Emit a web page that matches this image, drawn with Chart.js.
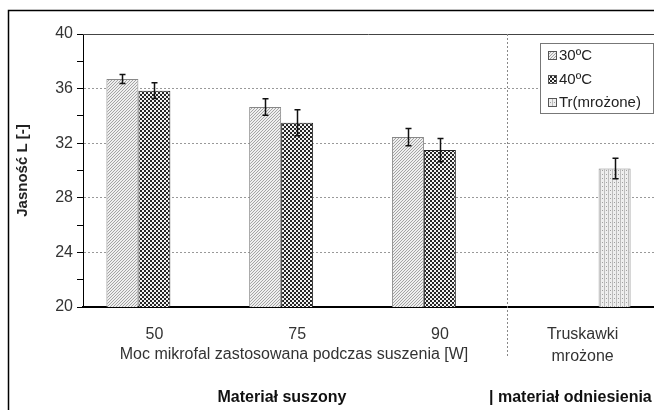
<!DOCTYPE html>
<html lang="pl">
<head>
	<meta charset="UTF-8">
	<title>Jasność L</title>
	<script src="https://cdn.jsdelivr.net/npm/chart.js"></script>
	<style>
		body { margin: 0; background: #fff; }
		canvas { display: block; }
	</style>
</head>
<body>
	<canvas id="grafico" width="654" height="410"></canvas>

	<script>
		// dane
		const kategorie = ['50', '75', '90', ['Truskawki', 'mrożone']];
		const etykietySerii = ['30ºC', '40ºC', 'Tr(mrożone)'];
		const jasnosc30 = [36.7, 34.65, 32.45, null];
		const jasnosc40 = [35.85, 33.5, 31.5, null];
		const jasnoscTr = [null, null, null, 30.15];
		const blad30 = [0.33, 0.6, 0.63, 0];
		const blad40 = [0.58, 0.95, 0.85, 0];
		const bladTr = [0, 0, 0, 0.75];
		const osY = { min: 20, max: 40, krok: 2 };

		const FONT = '"Liberation Sans", Arial, sans-serif';

		function wzor(rozmiar, rysuj) {
			const c = document.createElement('canvas');
			c.width = rozmiar;
			c.height = rozmiar;
			const x = c.getContext('2d');
			rysuj(x);
			return document.getElementById('grafico').getContext('2d').createPattern(c, 'repeat');
		}

		const wzor30 = wzor(6, x => {
			x.fillStyle = '#efefef';
			x.fillRect(0, 0, 6, 6);
			x.fillStyle = '#a4a4a4';
			for (let i = 0; i < 6; i++) {
				x.fillRect(i, 5 - i, 1, 1);
				x.fillRect((i + 3) % 6, 5 - i, 1, 1);
			}
		});
		const wzor40 = wzor(4, x => {
			x.fillStyle = '#262626';
			x.fillRect(0, 0, 4, 4);
			x.fillStyle = '#f2f2f2';
			x.fillRect(0, 0, 2, 2);
			x.fillRect(2, 2, 2, 2);
		});
		const wzorTr = wzor(4, x => {
			x.fillStyle = '#eeeeee';
			x.fillRect(0, 0, 4, 4);
			x.fillStyle = '#bcbcbc';
			x.fillRect(0, 0, 1, 4);
			x.fillStyle = '#a0a0a0';
			x.fillRect(2, 2, 1, 1);
		});

		const bledy = [blad30, blad40, bladTr];

		const dodatki = {
			id: 'dodatki',
			beforeDatasetsDraw(chart) {
				const { ctx, chartArea, scales } = chart;
				ctx.save();
				// górna krawędź obszaru wykresu
				ctx.strokeStyle = '#444';
				ctx.lineWidth = 1;
				ctx.beginPath();
				ctx.moveTo(chartArea.left, chartArea.top + 0.5);
				ctx.lineTo(chartArea.right, chartArea.top + 0.5);
				ctx.stroke();
				// linia podziału
				const xp = Math.round(scales.x.getPixelForValue(2.47)) + 0.5;
				ctx.strokeStyle = '#888';
				ctx.setLineDash([2, 2]);
				ctx.beginPath();
				ctx.moveTo(xp, chartArea.top);
				ctx.lineTo(xp, 357);
				ctx.stroke();
				ctx.restore();
			},
			afterDatasetsDraw(chart) {
				const { ctx, scales } = chart;
				ctx.save();
				ctx.strokeStyle = '#111';
				ctx.lineWidth = 1.5;
				chart.data.datasets.forEach((ds, i) => {
					const meta = chart.getDatasetMeta(i);
					meta.data.forEach((bar, j) => {
						const v = ds.data[j];
						const e = bledy[i][j];
						if (v === null || !e) return;
						const x = Math.round(bar.x) + 0.5;
						const y1 = scales.y.getPixelForValue(v + e);
						const y2 = scales.y.getPixelForValue(v - e);
						ctx.beginPath();
						ctx.moveTo(x, y1);
						ctx.lineTo(x, y2);
						ctx.moveTo(x - 3, y1);
						ctx.lineTo(x + 3, y1);
						ctx.moveTo(x - 3, y2);
						ctx.lineTo(x + 3, y2);
						ctx.stroke();
					});
				});
				ctx.restore();
			},
			afterDraw(chart) {
				const { ctx } = chart;
				ctx.save();
				// ramka
				ctx.strokeStyle = '#000';
				ctx.lineWidth = 1.5;
				ctx.beginPath();
				ctx.moveTo(8.5, 410);
				ctx.lineTo(8.5, 10.5);
				ctx.lineTo(654, 10.5);
				ctx.stroke();

				// opisy pod osią
				ctx.fillStyle = '#333';
				ctx.textBaseline = 'middle';
				ctx.textAlign = 'center';
				ctx.font = '16px ' + FONT;
				ctx.fillText('Moc mikrofal zastosowana podczas suszenia [W]', 294, 355);
				ctx.fillStyle = '#111';
				ctx.font = 'bold 16px ' + FONT;
				ctx.fillText('Materiał suszony', 282, 398);
				ctx.textAlign = 'left';
				ctx.fillText('| materiał odniesienia', 489, 398);

				// legenda
				ctx.fillStyle = '#fff';
				ctx.fillRect(540, 43, 114, 71);
				ctx.strokeStyle = '#777';
				ctx.lineWidth = 1;
				ctx.strokeRect(540.5, 43.5, 113, 70);
				const ys = [55, 79, 102];
				chart.data.datasets.forEach((ds, i) => {
					ctx.fillStyle = ds.backgroundColor;
					ctx.fillRect(548, ys[i] - 4, 9, 9);
					ctx.strokeStyle = '#555';
					ctx.strokeRect(548.5, ys[i] - 3.5, 8, 8);
					ctx.fillStyle = '#222';
					ctx.font = '15px ' + FONT;
					ctx.fillText(ds.label, 559, ys[i] + 1);
				});
				ctx.restore();
			}
		};

		new Chart(document.getElementById('grafico'), {
			type: 'bar',
			data: {
				labels: kategorie,
				datasets: [
					{ label: etykietySerii[0], data: jasnosc30, backgroundColor: wzor30, borderColor: '#888', borderWidth: 1 },
					{ label: etykietySerii[1], data: jasnosc40, backgroundColor: wzor40, borderColor: '#222', borderWidth: 1 },
					{ label: etykietySerii[2], data: jasnoscTr, backgroundColor: wzorTr, borderColor: '#888', borderWidth: 1 }
				]
			},
			options: {
				responsive: false,
				animation: false,
				devicePixelRatio: 1,
				layout: { padding: { top: 34, left: 0, right: 0, bottom: 0 } },
				datasets: { bar: { categoryPercentage: 0.672, barPercentage: 1 } },
				plugins: { legend: { display: false }, tooltip: { enabled: false } },
				scales: {
					x: {
						grid: { display: false },
						border: { color: '#000', width: 2 },
						ticks: {
							color: '#333',
							padding: 9,
							maxRotation: 0,
							autoSkip: false,
							font: { family: FONT, size: 16, lineHeight: 1.375 }
						},
						afterFit: s => { s.height = 103; }
					},
					y: {
						min: osY.min,
						max: osY.max,
						border: { color: '#000', width: 1, dash: [2, 2] },
						grid: {
							color: c => (c.tick && c.tick.value % 4 === 0 && c.tick.value > osY.min && c.tick.value < osY.max) ? '#999' : 'rgba(0,0,0,0)',
							tickColor: '#000',
							tickLength: 6
						},
						ticks: {
							stepSize: osY.krok,
							color: '#333',
							padding: 4,
							font: { family: FONT, size: 16 },
							callback: v => (v % 4 === 0 ? v : '')
						},
						title: {
							display: true,
							text: 'Jasność L [-]',
							color: '#222',
							font: { family: FONT, size: 15, weight: 'bold' },
							padding: { top: 14, bottom: 0 }
						},
						afterFit: s => { s.width = 83; }
					}
				}
			},
			plugins: [dodatki]
		});
	</script>
</body>
</html>
